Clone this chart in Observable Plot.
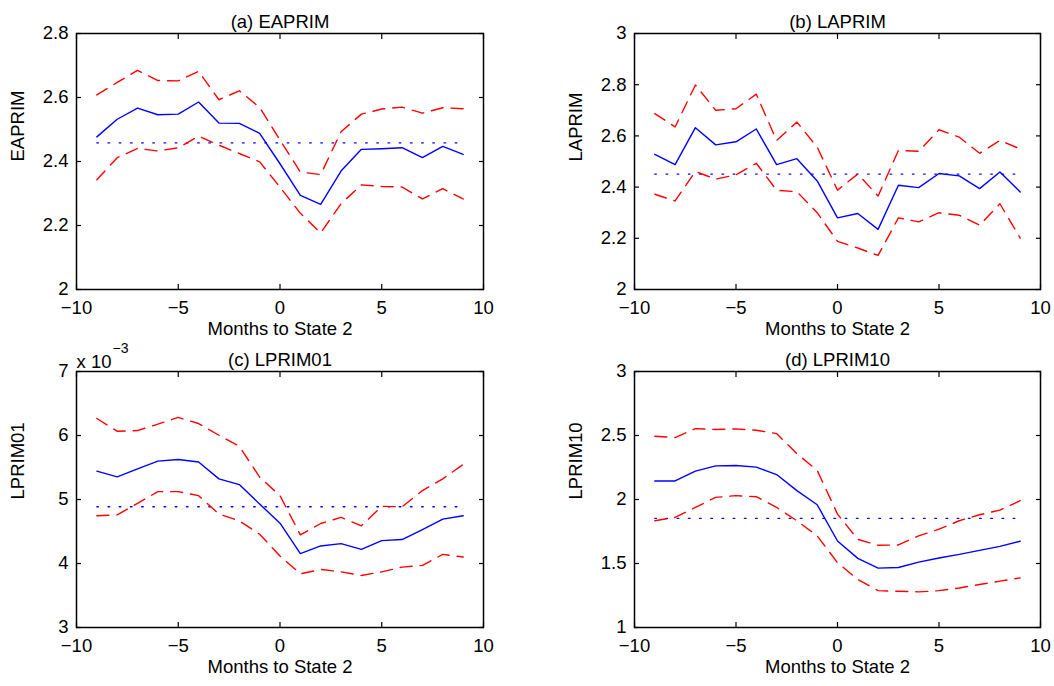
<!DOCTYPE html>
<html><head><meta charset="utf-8">
<script src="https://cdn.jsdelivr.net/npm/d3@7"></script>
<script src="https://cdn.jsdelivr.net/npm/@observablehq/plot@0.6"></script>
<style>
html,body{margin:0;padding:0;background:#fff}
body{width:1054px;height:686px;position:relative;overflow:hidden;font-family:"Liberation Sans",Arial,sans-serif}
.panel{position:absolute}
.panel svg{overflow:visible;background:transparent}
</style></head><body>
<div id="pa" class="panel" style="left:0px;top:0px"></div>
<div id="pb" class="panel" style="left:527px;top:0px"></div>
<div id="pc" class="panel" style="left:0px;top:345px"></div>
<div id="pd" class="panel" style="left:527px;top:345px"></div>
<script>
// ---- data ----
const months = [-9,-8,-7,-6,-5,-4,-3,-2,-1,0,1,2,3,4,5,6,7,8,9];
const xTicks = [-10,-5,0,5,10];
const xLabel = "Months to State 2";

const eaprimMean  = [2.477,2.532,2.567,2.546,2.548,2.586,2.520,2.519,2.488,2.393,2.294,2.266,2.370,2.438,2.440,2.443,2.412,2.447,2.422];
const eaprimUpper = [2.608,2.647,2.685,2.653,2.652,2.682,2.593,2.621,2.569,2.467,2.367,2.359,2.493,2.548,2.564,2.570,2.551,2.568,2.565];
const eaprimLower = [2.343,2.412,2.441,2.433,2.443,2.479,2.451,2.425,2.399,2.320,2.238,2.177,2.268,2.327,2.322,2.320,2.283,2.315,2.283];
const eaprimBase  = 2.458;
const eaprimTicks = [2,2.2,2.4,2.6,2.8];

const laprimMean  = [2.528,2.488,2.632,2.565,2.577,2.627,2.488,2.511,2.424,2.280,2.297,2.235,2.407,2.398,2.453,2.444,2.394,2.459,2.381];
const laprimUpper = [2.687,2.635,2.799,2.700,2.706,2.763,2.582,2.654,2.556,2.388,2.451,2.365,2.543,2.540,2.624,2.595,2.532,2.582,2.549];
const laprimLower = [2.372,2.346,2.461,2.431,2.448,2.493,2.388,2.382,2.300,2.188,2.162,2.133,2.280,2.264,2.300,2.290,2.251,2.335,2.201];
const laprimBase  = 2.451;
const laprimTicks = [2,2.2,2.4,2.6,2.8,3];

// LPRIM01 values in units of 10^-3
const lprim01Mean  = [5.443,5.354,5.480,5.600,5.626,5.585,5.322,5.233,4.929,4.630,4.153,4.274,4.311,4.221,4.358,4.374,4.531,4.693,4.746];
const lprim01Upper = [6.266,6.067,6.077,6.177,6.282,6.187,6.004,5.831,5.349,5.060,4.447,4.625,4.720,4.589,4.893,4.887,5.139,5.322,5.548];
const lprim01Lower = [4.746,4.760,4.940,5.123,5.123,5.060,4.772,4.667,4.457,4.117,3.839,3.907,3.870,3.813,3.870,3.944,3.970,4.143,4.101];
const lprim01Base  = 4.887;
const lprim01Ticks = [3,4,5,6,7];

const lprim10Mean  = [2.145,2.145,2.222,2.263,2.266,2.253,2.195,2.069,1.959,1.676,1.540,1.464,1.469,1.511,1.543,1.571,1.603,1.634,1.674];
const lprim10Upper = [2.494,2.484,2.554,2.547,2.552,2.541,2.515,2.358,2.227,1.886,1.689,1.642,1.645,1.716,1.768,1.834,1.881,1.917,1.991];
const lprim10Lower = [1.834,1.860,1.938,2.017,2.030,2.022,1.938,1.834,1.716,1.506,1.375,1.288,1.283,1.278,1.288,1.309,1.336,1.362,1.388];
const lprim10Base  = 1.852;
const lprim10Ticks = [1,1.5,2,2.5,3];

const font = "'Liberation Sans', Arial, Helvetica, sans-serif";
const fmt = d3.format("");
const tick = 5;

function drawPanel(id, cfg) {
  const rows = months.map((m, i) => ({m, mean: cfg.mean[i], upper: cfg.upper[i], lower: cfg.lower[i], base: cfg.base}));
  const marks = [
    Plot.line(rows, {x: "m", y: "base", stroke: "#0000ff", strokeWidth: 1.3, strokeDasharray: "1.6,9.6"}),
    Plot.line(rows, {x: "m", y: "upper", stroke: "#ff0000", strokeWidth: 1.4, strokeDasharray: "12,8"}),
    Plot.line(rows, {x: "m", y: "lower", stroke: "#ff0000", strokeWidth: 1.4, strokeDasharray: "12,8"}),
    Plot.line(rows, {x: "m", y: "mean", stroke: "#0000ff", strokeWidth: 1.4}),
    Plot.frame({stroke: "#000", strokeWidth: 1.5}),
    // inward ticks on all four sides
    Plot.axisX(xTicks, {anchor: "bottom", tickSize: tick, dy: -tick, fill: "none", label: null, strokeWidth: 1.2}),
    Plot.axisX(xTicks, {anchor: "top", tickSize: tick, dy: tick, fill: "none", label: null, strokeWidth: 1.2}),
    Plot.axisY(cfg.ticks, {anchor: "left", tickSize: tick, dx: tick, fill: "none", label: null, strokeWidth: 1.2}),
    Plot.axisY(cfg.ticks, {anchor: "right", tickSize: tick, dx: -tick, fill: "none", label: null, strokeWidth: 1.2}),
    // tick labels
    Plot.axisX(xTicks, {anchor: "bottom", tickSize: 0, tickPadding: 11, label: null, tickFormat: fmt}),
    Plot.axisY(cfg.ticks, {anchor: "left", tickSize: 0, tickPadding: 8, label: null, tickFormat: fmt}),
    Plot.text([cfg.title], {text: d => d, frameAnchor: "top", dy: -19}),
    Plot.text([xLabel], {text: d => d, frameAnchor: "bottom", dy: 45}),
    Plot.text([cfg.ylabel], {text: d => d, frameAnchor: "left", dx: -58, rotate: -90})
  ];
  if (cfg.exponent) {
    marks.push(Plot.text(["x 10"], {text: d => d, frameAnchor: "top-left", dy: -17, textAnchor: "start"}));
    marks.push(Plot.text([cfg.exponent], {text: d => d, frameAnchor: "top-left", dx: 36, dy: -28, textAnchor: "start", fontSize: 14}));
  }
  const chart = Plot.plot({
    width: cfg.width, height: cfg.height,
    marginLeft: cfg.ml, marginRight: cfg.mr, marginTop: cfg.mt, marginBottom: cfg.mb,
    style: {fontFamily: font, fontSize: "18.5px", color: "#000", background: "transparent", overflow: "visible"},
    x: {domain: [-10, 10]},
    y: {domain: cfg.domain},
    marks
  });
  document.getElementById(id).appendChild(chart);
}

drawPanel("pa", {title: "(a) EAPRIM", ylabel: "EAPRIM", mean: eaprimMean, upper: eaprimUpper, lower: eaprimLower, base: eaprimBase,
  ticks: eaprimTicks, domain: [2, 2.8], width: 527, height: 345, ml: 76, mr: 44, mt: 33, mb: 56});
drawPanel("pb", {title: "(b) LAPRIM", ylabel: "LAPRIM", mean: laprimMean, upper: laprimUpper, lower: laprimLower, base: laprimBase,
  ticks: laprimTicks, domain: [2, 3], width: 527, height: 345, ml: 107, mr: 14, mt: 33, mb: 56});
drawPanel("pc", {title: "(c) LPRIM01", ylabel: "LPRIM01", mean: lprim01Mean, upper: lprim01Upper, lower: lprim01Lower, base: lprim01Base,
  ticks: lprim01Ticks, domain: [3, 7], exponent: "\u22123", width: 527, height: 341, ml: 76, mr: 44, mt: 26, mb: 59});
drawPanel("pd", {title: "(d) LPRIM10", ylabel: "LPRIM10", mean: lprim10Mean, upper: lprim10Upper, lower: lprim10Lower, base: lprim10Base,
  ticks: lprim10Ticks, domain: [1, 3], width: 527, height: 341, ml: 107, mr: 14, mt: 26, mb: 59});
</script>
</body></html>
